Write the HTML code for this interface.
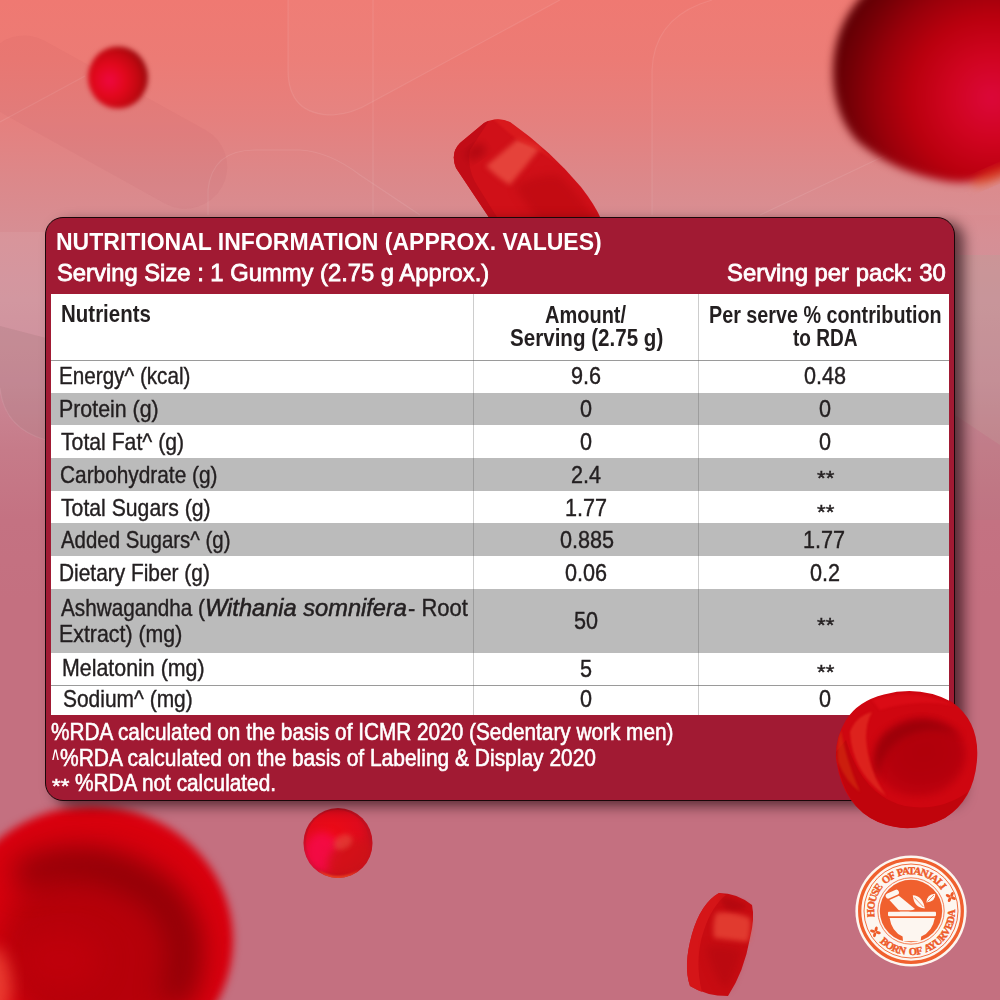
<!DOCTYPE html>
<html lang="en">
<head>
<meta charset="utf-8">
<title>Nutritional Information</title>
<style>
html,body{margin:0;padding:0}
body{width:1000px;height:1000px;position:relative;overflow:hidden;background:#c47080;
  font-family:"Liberation Sans",sans-serif}
.bg{position:absolute;left:0;top:0;width:1000px;height:1000px;
  background:linear-gradient(180deg,#ef7972 0px,#ec7b75 60px,#e5807e 120px,#dc888a 180px,#d68f95 240px,#d0919b 300px,#cb8896 380px,#c67b89 450px,#c47282 520px,#c47080 600px,#c47080 1000px)}
svg.layer{position:absolute;left:0;top:0;width:1000px;height:1000px;overflow:visible}
.card{position:absolute;left:45.3px;top:217.4px;width:909.7px;height:583.4px;box-sizing:border-box;
  border:1.8px solid #1a0609;border-radius:18px;background:#a11a33;
  box-shadow:9px 5px 13px rgba(25,0,8,.62)}
.tbl{position:absolute;left:51px;top:293.5px;width:898.2px;height:421.8px;background:#fff;overflow:hidden}
.row{position:absolute;left:0;width:100%}
.g{background:#bbbbbb}
.hl{position:absolute;left:0;width:100%;height:1px;background:#9a9a9a}
.vl{position:absolute;top:0;height:100%;width:1px;background:rgba(90,90,90,.30)}
.t{position:absolute;white-space:nowrap;line-height:1;transform-origin:0 0;display:block;letter-spacing:0}
</style>
</head>
<body>
<div class="bg"></div>

<!-- background decoration + gummies behind the card -->
<svg class="layer" viewBox="0 0 1000 1000">
<defs>
  <filter color-interpolation-filters="sRGB" id="b1" x="-10%" y="-10%" width="120%" height="120%"><feGaussianBlur stdDeviation=".7"/></filter>
  <filter color-interpolation-filters="sRGB" id="b2" x="-20%" y="-20%" width="140%" height="140%"><feGaussianBlur stdDeviation="1.2"/></filter>
  <filter color-interpolation-filters="sRGB" id="b3" x="-20%" y="-20%" width="140%" height="140%"><feGaussianBlur stdDeviation="2.6"/></filter>
  <filter color-interpolation-filters="sRGB" id="b5" x="-20%" y="-20%" width="140%" height="140%"><feGaussianBlur stdDeviation="4"/></filter>
  <filter color-interpolation-filters="sRGB" id="b8" x="-30%" y="-30%" width="160%" height="160%"><feGaussianBlur stdDeviation="8"/></filter>
  <filter color-interpolation-filters="sRGB" id="b14" x="-40%" y="-40%" width="180%" height="180%"><feGaussianBlur stdDeviation="14"/></filter>
  <radialGradient id="gTL" cx="36%" cy="55%" r="66%">
    <stop offset="0" stop-color="#ee0840"/><stop offset=".4" stop-color="#e2081c"/><stop offset=".75" stop-color="#c00810"/><stop offset="1" stop-color="#92080c"/>
  </radialGradient>
  <radialGradient id="gTR" gradientUnits="userSpaceOnUse" cx="992" cy="98" r="168">
    <stop offset="0" stop-color="#dc083a"/><stop offset=".25" stop-color="#d00420"/><stop offset=".48" stop-color="#ba000e"/><stop offset=".68" stop-color="#98000a"/><stop offset=".86" stop-color="#720006"/><stop offset="1" stop-color="#5a0004"/>
  </radialGradient>
  <radialGradient id="gBL" cx="50%" cy="50%" r="50%">
    <stop offset="0" stop-color="#b20009"/><stop offset=".6" stop-color="#c4000a"/><stop offset=".85" stop-color="#d8000c"/><stop offset="1" stop-color="#de0612"/>
  </radialGradient>
  <linearGradient id="gTop" x1="0" y1="0" x2="1" y2="1">
    <stop offset="0" stop-color="#d0101a"/><stop offset=".5" stop-color="#dc1a1c"/><stop offset="1" stop-color="#c40c12"/>
  </linearGradient>
  <radialGradient id="gSm" cx="40%" cy="40%" r="65%">
    <stop offset="0" stop-color="#ee0a14"/><stop offset=".7" stop-color="#df0a1c"/><stop offset="1" stop-color="#c40e1c"/>
  </radialGradient>
  <clipPath id="cSm"><ellipse cx="338" cy="843" rx="34.5" ry="35"/></clipPath>
  <clipPath id="cTR"><rect x="0" y="0" width="1000" height="1000"/></clipPath>
</defs>

<!-- faint geometric pattern -->
<g fill="none" stroke="#ffffff" stroke-opacity=".09" stroke-width="1.2">
  <path d="M288 0 V70 Q288 115 333 115 Q352 114 372 102 L560 0"/>
  <path d="M373 0 V215"/>
  <path d="M0 122 L85 76"/>
  <path d="M208 215 V190 Q212 150 255 150 H300 Q330 152 360 175 L420 215"/>
  <path d="M652 215 V70 Q654 22 700 4 L712 0"/>
  <path d="M760 215 L960 120"/>
  <path d="M0 388 Q4 428 46 440"/>
</g>
<g fill="#ffffff">
  <path d="M288 0 V70 Q288 115 333 115 Q352 114 372 102 L560 0 Z" fill-opacity=".035"/>
  <path d="M652 215 V70 Q654 22 700 4 L712 0 H1000 V215 Z" fill-opacity=".02"/>
  <path d="M0 232 H46 V338 L0 326 Z" fill-opacity=".06"/>
  <path d="M0 326 L46 338 V440 Q4 428 0 388 Z" fill="#a08787" fill-opacity=".2"/>
  <path d="M955 255 H1000 V445 L955 415 Z" fill="#b0a596" fill-opacity=".25"/>
  <path d="M955 415 L1000 445 V520 H955 Z" fill="#a08787" fill-opacity=".12"/>
</g>
<rect x="-30" y="83" width="268" height="84" rx="42" fill="#a83c50" fill-opacity=".055" transform="rotate(29 110 125)"/>

<!-- top-left blurred ball -->
<ellipse cx="118" cy="77.5" rx="30" ry="31" fill="url(#gTL)" filter="url(#b3)"/>

<!-- top-right big blurred ball -->
<g filter="url(#b5)">
  <path d="M833 72 Q833 20 872 -14 Q910 -42 960 -36 L1010 -30 V170 Q982 186 945 181 Q893 172 857 141 Q833 114 833 72 Z" fill="url(#gTR)"/>
</g>
<ellipse cx="992" cy="176" rx="22" ry="7" fill="#e85a20" fill-opacity=".45" filter="url(#b5)" transform="rotate(-24 992 176)"/>

<!-- bottom-left big blurred gummy -->
<g filter="url(#b5)">
  <ellipse cx="92" cy="940" rx="141" ry="134" fill="#d9000e"/>
</g>
<ellipse cx="100" cy="948" rx="100" ry="92" fill="#b6000a" filter="url(#b14)"/>
<path d="M28 872 Q95 846 160 896 Q196 934 178 992" fill="none" stroke="#860006" stroke-opacity=".85" stroke-width="30" stroke-linecap="round" filter="url(#b14)"/>
<ellipse cx="-8" cy="985" rx="20" ry="38" fill="#f04a3a" fill-opacity=".8" filter="url(#b8)"/>
<ellipse cx="60" cy="960" rx="40" ry="30" fill="#c8000c" fill-opacity=".5" filter="url(#b14)"/>

<!-- top centre gummy (behind card) -->
<g>
  <clipPath id="cTop"><path d="M490 219 L456 168 Q450 153 460 143 L484 123 Q497 116 510 122 Q551 151 581 187 Q595 205 601 219 Z"/></clipPath>
  <path d="M490 219 L456 168 Q450 153 460 143 L484 123 Q497 116 510 122 Q551 151 581 187 Q595 205 601 219 Z" fill="#d01018"/>
  <g clip-path="url(#cTop)">
    <path d="M450 140 L492 116 L470 150 Q466 170 480 190 L500 222 L480 222 L450 170 Z" fill="#c20c16"/>
    <path d="M486 166 L518 139 Q530 142 541 147 L510 185 Q498 178 486 166 Z" fill="#ee5848" fill-opacity=".7" filter="url(#b3)"/>
    <ellipse cx="476" cy="152" rx="11" ry="7" fill="#98000a" fill-opacity=".5" filter="url(#b5)" transform="rotate(-35 476 152)"/>
    <path d="M515 186 Q540 172 560 176 Q585 200 596 222 H540 Q525 205 515 186 Z" fill="#b8080e" fill-opacity=".55" filter="url(#b5)"/>
    <path d="M492 118 Q505 116 520 128 L560 165 Q540 150 520 142 Q505 130 492 118 Z" fill="#e02020" fill-opacity=".6" filter="url(#b2)"/>
  </g>
</g>

<!-- small gummy under the card -->
<g>
  <ellipse cx="338" cy="843" rx="34.5" ry="35" fill="#c40e1e"/>
  <g clip-path="url(#cSm)">
    <ellipse cx="337.5" cy="842" rx="31.5" ry="32" fill="url(#gSm)"/>
    <ellipse cx="322" cy="852" rx="17" ry="20" fill="#f60a4e" fill-opacity=".8" filter="url(#b5)"/>
    <ellipse cx="350" cy="858" rx="24" ry="17" fill="#cf1216" fill-opacity=".8" filter="url(#b5)" transform="rotate(-28 350 858)"/>
    <ellipse cx="343" cy="842" rx="10" ry="7" fill="#e85a48" fill-opacity=".5" filter="url(#b3)" transform="rotate(-30 343 842)"/>
    <path d="M318 870 Q338 882 360 870 Q350 880 338 880 Q326 880 318 870 Z" fill="#ee4a20" fill-opacity=".9" filter="url(#b2)"/>
  </g>
</g>

<!-- bottom tilted gummy -->
<g filter="url(#b1)">
  <path d="M719 893 Q737 893 752 905 Q755 918 750 938 Q744 972 728 996 Q706 996 690 986 Q683 966 692 934 Q701 903 719 893 Z" fill="#c80c12"/>
  <path d="M719 893 Q701 903 692 934 Q683 966 690 986 Q697 990 702 992 Q694 960 704 930 Q712 906 726 895 Z" fill="#d6161a" fill-opacity=".9"/>
  <path d="M716 913 Q730 910 750 918 Q752 928 748 942 Q730 940 714 938 Q712 924 716 913 Z" fill="#ea4a3a" fill-opacity=".75" filter="url(#b3)"/>
  <path d="M722 897 Q736 898 748 906 Q740 912 728 910 Q720 905 722 897 Z" fill="#a8060c" fill-opacity=".55" filter="url(#b3)"/>
  <path d="M706 946 Q724 944 742 950 Q736 975 726 990 Q712 975 706 946 Z" fill="#b0080e" fill-opacity=".55" filter="url(#b5)"/>
</g>
</svg>

<div class="card"></div>
<div class="tbl">
  <div class="row g" style="top:99.5px;height:32px"></div>
  <div class="row g" style="top:164.5px;height:32.5px"></div>
  <div class="row g" style="top:229.5px;height:33px"></div>
  <div class="row g" style="top:295.5px;height:64px"></div>
  <div class="hl" style="top:66.3px"></div>
  <div class="hl" style="top:391.3px"></div>
  <div class="vl" style="left:421.8px"></div>
  <div class="vl" style="left:646.5px"></div>
</div>

<header class="hdr">
<span class="t" id="h1" style="left:55.58px;top:230.00px;font-size:24px;font-weight:700;color:#ffffff;transform:scaleX(0.9585)">NUTRITIONAL INFORMATION (APPROX. VALUES)</span>
<span class="t" id="h2" style="left:56.51px;top:261.00px;font-size:24px;font-weight:400;color:#ffffff;-webkit-text-stroke:.8px #fff;transform:scaleX(0.9910)">Serving Size : 1 Gummy (2.75 g Approx.)</span>
<span class="t" id="h3" style="left:727.01px;top:261.00px;font-size:24px;font-weight:400;color:#ffffff;-webkit-text-stroke:.8px #fff;transform:scaleX(0.9941)">Serving per pack: 30</span>
</header>
<section class="cells" role="table" aria-label="Nutritional values">
<span class="t" id="c1" style="left:61.19px;top:302.00px;font-size:24px;font-weight:700;color:#231f20;transform:scaleX(0.8539)">Nutrients</span>
<span class="t" id="c2a" style="left:545.37px;top:303.00px;font-size:24px;font-weight:700;color:#231f20;transform:scaleX(0.8333)">Amount/</span>
<span class="t" id="c2b" style="left:509.84px;top:326.00px;font-size:24px;font-weight:700;color:#231f20;transform:scaleX(0.8576)">Serving (2.75 g)</span>
<span class="t" id="c3a" style="left:708.55px;top:303.00px;font-size:24px;font-weight:700;color:#231f20;transform:scaleX(0.8229)">Per serve % contribution</span>
<span class="t" id="c3b" style="left:792.60px;top:326.00px;font-size:24px;font-weight:700;color:#231f20;transform:scaleX(0.7938)">to RDA</span>
<span class="t" id="r1" style="left:59.38px;top:364.00px;font-size:24px;font-weight:400;color:#231f20;-webkit-text-stroke:.4px #231f20;transform:scaleX(0.8607)">Energy^ (kcal)</span>
<span class="t" id="r2" style="left:59.32px;top:397.00px;font-size:24px;font-weight:400;color:#231f20;-webkit-text-stroke:.4px #231f20;transform:scaleX(0.8890)">Protein (g)</span>
<span class="t" id="r3" style="left:61.10px;top:430.00px;font-size:24px;font-weight:400;color:#231f20;-webkit-text-stroke:.4px #231f20;transform:scaleX(0.8833)">Total Fat^ (g)</span>
<span class="t" id="r4" style="left:60.23px;top:463.00px;font-size:24px;font-weight:400;color:#231f20;-webkit-text-stroke:.4px #231f20;transform:scaleX(0.8682)">Carbohydrate (g)</span>
<span class="t" id="r5" style="left:60.60px;top:496.00px;font-size:24px;font-weight:400;color:#231f20;-webkit-text-stroke:.4px #231f20;transform:scaleX(0.8833)">Total Sugars (g)</span>
<span class="t" id="r6" style="left:61.10px;top:528.00px;font-size:24px;font-weight:400;color:#231f20;-webkit-text-stroke:.4px #231f20;transform:scaleX(0.8500)">Added Sugars^ (g)</span>
<span class="t" id="r7" style="left:59.36px;top:561.00px;font-size:24px;font-weight:400;color:#231f20;-webkit-text-stroke:.4px #231f20;transform:scaleX(0.8700)">Dietary Fiber (g)</span>
<span class="t" id="r8a" style="left:60.80px;top:596.00px;font-size:24px;font-weight:400;color:#231f20;-webkit-text-stroke:.4px #231f20;transform:scaleX(0.8635)">Ashwagandha (</span>
<span class="t" id="r8i" style="left:205.23px;top:596.00px;font-size:24px;font-weight:400;color:#231f20;font-style:italic;-webkit-text-stroke:.55px #231f20;transform:scaleX(0.9842)">Withania somnifera</span>
<span class="t" id="r8b" style="left:407.58px;top:596.00px;font-size:24px;font-weight:400;color:#231f20;-webkit-text-stroke:.4px #231f20;transform:scaleX(0.9154)">- Root</span>
<span class="t" id="r8c" style="left:59.32px;top:622.00px;font-size:24px;font-weight:400;color:#231f20;-webkit-text-stroke:.4px #231f20;transform:scaleX(0.8890)">Extract) (mg)</span>
<span class="t" id="r9" style="left:61.92px;top:656.00px;font-size:24px;font-weight:400;color:#231f20;-webkit-text-stroke:.4px #231f20;transform:scaleX(0.8911)">Melatonin (mg)</span>
<span class="t" id="r10" style="left:62.83px;top:687.00px;font-size:24px;font-weight:400;color:#231f20;-webkit-text-stroke:.4px #231f20;transform:scaleX(0.8728)">Sodium^ (mg)</span>
<span class="t" id="a0" style="left:571.30px;top:364.00px;font-size:24px;font-weight:400;color:#231f20;-webkit-text-stroke:.4px #231f20;transform:scaleX(0.9000)">9.6</span>
<span class="t" id="b0" style="left:803.65px;top:364.00px;font-size:24px;font-weight:400;color:#231f20;-webkit-text-stroke:.4px #231f20;transform:scaleX(0.9000)">0.48</span>
<span class="t" id="a1" style="left:580.30px;top:397.00px;font-size:24px;font-weight:400;color:#231f20;-webkit-text-stroke:.4px #231f20;transform:scaleX(0.9000)">0</span>
<span class="t" id="b1" style="left:818.50px;top:397.00px;font-size:24px;font-weight:400;color:#231f20;-webkit-text-stroke:.4px #231f20;transform:scaleX(0.9000)">0</span>
<span class="t" id="a2" style="left:580.30px;top:430.00px;font-size:24px;font-weight:400;color:#231f20;-webkit-text-stroke:.4px #231f20;transform:scaleX(0.9000)">0</span>
<span class="t" id="b2" style="left:818.50px;top:430.00px;font-size:24px;font-weight:400;color:#231f20;-webkit-text-stroke:.4px #231f20;transform:scaleX(0.9000)">0</span>
<span class="t" id="a3" style="left:571.30px;top:463.00px;font-size:24px;font-weight:400;color:#231f20;-webkit-text-stroke:.4px #231f20;transform:scaleX(0.9000)">2.4</span>
<span class="t" id="b3" style="left:816.90px;top:468.00px;font-size:20px;font-weight:400;color:#231f20;-webkit-text-stroke:.4px #231f20;transform:scaleX(1.1133)">**</span>
<span class="t" id="a4" style="left:565.00px;top:496.00px;font-size:24px;font-weight:400;color:#231f20;-webkit-text-stroke:.4px #231f20;transform:scaleX(0.9000)">1.77</span>
<span class="t" id="b4" style="left:816.90px;top:502.00px;font-size:20px;font-weight:400;color:#231f20;-webkit-text-stroke:.4px #231f20;transform:scaleX(1.1133)">**</span>
<span class="t" id="a5" style="left:559.60px;top:528.00px;font-size:24px;font-weight:400;color:#231f20;-webkit-text-stroke:.4px #231f20;transform:scaleX(0.9000)">0.885</span>
<span class="t" id="b5" style="left:803.20px;top:528.00px;font-size:24px;font-weight:400;color:#231f20;-webkit-text-stroke:.4px #231f20;transform:scaleX(0.9000)">1.77</span>
<span class="t" id="a6" style="left:565.45px;top:561.00px;font-size:24px;font-weight:400;color:#231f20;-webkit-text-stroke:.4px #231f20;transform:scaleX(0.9000)">0.06</span>
<span class="t" id="b6" style="left:809.50px;top:561.00px;font-size:24px;font-weight:400;color:#231f20;-webkit-text-stroke:.4px #231f20;transform:scaleX(0.9000)">0.2</span>
<span class="t" id="a7" style="left:574.45px;top:609.00px;font-size:24px;font-weight:400;color:#231f20;-webkit-text-stroke:.4px #231f20;transform:scaleX(0.9000)">50</span>
<span class="t" id="b7" style="left:816.90px;top:615.00px;font-size:20px;font-weight:400;color:#231f20;-webkit-text-stroke:.4px #231f20;transform:scaleX(1.1133)">**</span>
<span class="t" id="a8" style="left:580.30px;top:657.00px;font-size:24px;font-weight:400;color:#231f20;-webkit-text-stroke:.4px #231f20;transform:scaleX(0.9000)">5</span>
<span class="t" id="b8" style="left:816.90px;top:662.00px;font-size:20px;font-weight:400;color:#231f20;-webkit-text-stroke:.4px #231f20;transform:scaleX(1.1133)">**</span>
<span class="t" id="a9" style="left:580.30px;top:687.00px;font-size:24px;font-weight:400;color:#231f20;-webkit-text-stroke:.4px #231f20;transform:scaleX(0.9000)">0</span>
<span class="t" id="b9" style="left:818.50px;top:687.00px;font-size:24px;font-weight:400;color:#231f20;-webkit-text-stroke:.4px #231f20;transform:scaleX(0.9000)">0</span>
</section>
<footer class="ftr">
<span class="t" id="f1" style="left:51.33px;top:720.00px;font-size:24px;font-weight:400;color:#ffffff;-webkit-text-stroke:.6px #ffffff;transform:scaleX(0.8657)">%RDA calculated on the basis of ICMR 2020 (Sedentary work men)</span>
<span class="t" id="f2c" style="left:51.70px;top:746.00px;font-size:24px;font-weight:700;color:#ffffff;transform:scaleX(0.5000)">^</span>
<span class="t" id="f2" style="left:59.63px;top:746.00px;font-size:24px;font-weight:400;color:#ffffff;-webkit-text-stroke:.6px #ffffff;transform:scaleX(0.8734)">%RDA calculated on the basis of Labeling &amp; Display 2020</span>
<span class="t" id="f3s" style="left:51.50px;top:775.00px;font-size:21px;font-weight:400;color:#ffffff;-webkit-text-stroke:.5px #ffffff;transform:scaleX(1.0625)">**</span>
<span class="t" id="f3" style="left:75.13px;top:771.00px;font-size:24px;font-weight:400;color:#ffffff;-webkit-text-stroke:.6px #ffffff;transform:scaleX(0.8659)">%RDA not calculated.</span>
</footer>

<!-- gummy overlapping card + stamp -->
<svg class="layer" viewBox="0 0 1000 1000">
<defs>
  <filter color-interpolation-filters="sRGB" id="c2" x="-20%" y="-20%" width="140%" height="140%"><feGaussianBlur stdDeviation="1.3"/></filter>
  <filter color-interpolation-filters="sRGB" id="c4" x="-30%" y="-30%" width="160%" height="160%"><feGaussianBlur stdDeviation="3.5"/></filter>
  <filter color-interpolation-filters="sRGB" id="c8" x="-40%" y="-40%" width="180%" height="180%"><feGaussianBlur stdDeviation="7"/></filter>
  <radialGradient id="gRin" cx="55%" cy="45%" r="60%">
    <stop offset="0" stop-color="#b0000a"/><stop offset=".6" stop-color="#b4000c"/><stop offset="1" stop-color="#c4020e"/>
  </radialGradient>
  <clipPath id="cR"><path d="M836 758 Q835 738 846 720 Q858 701 884 694.5 Q920 685 952 702 Q980 722 977 760 Q974 800 945 818 Q912 836 878 822 Q842 806 836 758 Z"/></clipPath>
  <path id="arcTop" d="M 874.65 916.76 A 36.8 36.8 0 0 1 941.69 890.69"/>
  <path id="arcBot" d="M 879.72 941.95 A 44 44 0 0 0 954.94 908.77"/>
</defs>

<!-- right gummy -->
<g>
  <path d="M836 758 Q835 738 846 720 Q858 701 884 694.5 Q920 685 952 702 Q980 722 977 760 Q974 800 945 818 Q912 836 878 822 Q842 806 836 758 Z" fill="#cf0610"/>
  <g clip-path="url(#cR)">
    <!-- side band, lower-left -->
    <path d="M836 752 Q842 806 878 822 Q912 836 945 818 Q960 808 968 792 Q940 812 905 806 Q862 796 846 740 Z" fill="#c0040c"/>
    <ellipse cx="920" cy="757" rx="46" ry="40" fill="url(#gRin)" filter="url(#c4)" transform="rotate(-12 920 757)"/>
    <path d="M884 734 Q922 706 962 736 Q932 722 902 738 Q880 752 878 780 Q868 752 884 734 Z" fill="#8c0006" fill-opacity=".6" filter="url(#c4)"/>
    <path d="M850 732 Q852 772 886 796 Q868 770 866 738 Q866 722 872 712 Q856 716 850 732 Z" fill="#ea3a28" fill-opacity=".55" filter="url(#c2)"/>
    <path d="M838 762 Q836 742 841 730 Q846 760 860 792 Q846 782 838 762 Z" fill="#d8380e" fill-opacity=".5" filter="url(#c2)"/>
    <path d="M872 700 Q915 686 955 706 Q920 698 880 710 Z" fill="#dc0c16" fill-opacity=".8" filter="url(#c2)"/>
  </g>
</g>

<!-- stamp -->
<g>
  <circle cx="911" cy="911" r="55.6" fill="#fdf6f0"/>
  <circle cx="911" cy="911" r="51.3" fill="none" stroke="#f0602e" stroke-width="3.3"/>
  <circle cx="911" cy="911" r="47" fill="none" stroke="#f0602e" stroke-width=".9"/>
  <circle cx="911" cy="911" r="33.2" fill="none" stroke="#f0602e" stroke-width=".8"/>
  <circle cx="911" cy="911" r="31.2" fill="#f0602e"/>
  <g font-family="'Liberation Serif',serif" font-weight="700" font-size="10.6" fill="#ee5a28" stroke="#ee5a28" stroke-width=".4" word-spacing="2.2">
    <text><textPath href="#arcTop" textLength="99" lengthAdjust="spacing">HOUSE OF PATANJALI</textPath></text>
    <text><textPath href="#arcBot" textLength="105" lengthAdjust="spacing">BORN OF AYURVEDA</textPath></text>
  </g>
  <!-- florets -->
  <g fill="#ee5a28">
    <g transform="translate(950.8 897) rotate(25)">
      <ellipse cx="0" cy="-2.9" rx="1.5" ry="2.6"/><ellipse cx="0" cy="2.9" rx="1.5" ry="2.6"/>
      <ellipse cx="-2.9" cy="0" rx="2.6" ry="1.5"/><ellipse cx="2.9" cy="0" rx="2.6" ry="1.5"/>
    </g>
    <g transform="translate(875.4 931.9) rotate(15)">
      <ellipse cx="0" cy="-2.9" rx="1.5" ry="2.6"/><ellipse cx="0" cy="2.9" rx="1.5" ry="2.6"/>
      <ellipse cx="-2.9" cy="0" rx="2.6" ry="1.5"/><ellipse cx="2.9" cy="0" rx="2.6" ry="1.5"/>
    </g>
  </g>
  <!-- mortar & pestle -->
  <g fill="#fdf6f0">
    <!-- pestle -->
    <g transform="rotate(-24 892.3 894.1)">
      <rect x="885.3" y="891.4" width="14" height="5.4" rx="2.7"/>
      <path d="M887.2 898.4 H897.6 L907 917 H893.5 Z"/>
    </g>
    <!-- leaves -->
    <path d="M912.8 895.3 Q922.5 895.5 924.8 908.4 Q913.8 907.6 912.8 895.3 Z"/>
    <path d="M935.2 893.8 Q936 901.5 926.4 902.6 Q926.6 894.6 935.2 893.8 Z"/>
    <!-- rim -->
    <rect x="888" y="911.6" width="48" height="4.6" rx="1.2"/>
    <!-- bowl -->
    <path d="M889.6 918 H934.8 Q932.6 931.5 921.2 936.6 L920.6 941.2 H903 L902.6 936.6 Q891.6 931.5 889.6 918 Z"/>
  </g>
  <path d="M885 910.8 H938" stroke="#f0602e" stroke-width="1.3"/>
  <path d="M914.2 897.4 L923.4 907 M934 895 L927.4 901.6" stroke="#f0602e" stroke-width=".7"/>
</g>
</svg>
</body>
</html>
